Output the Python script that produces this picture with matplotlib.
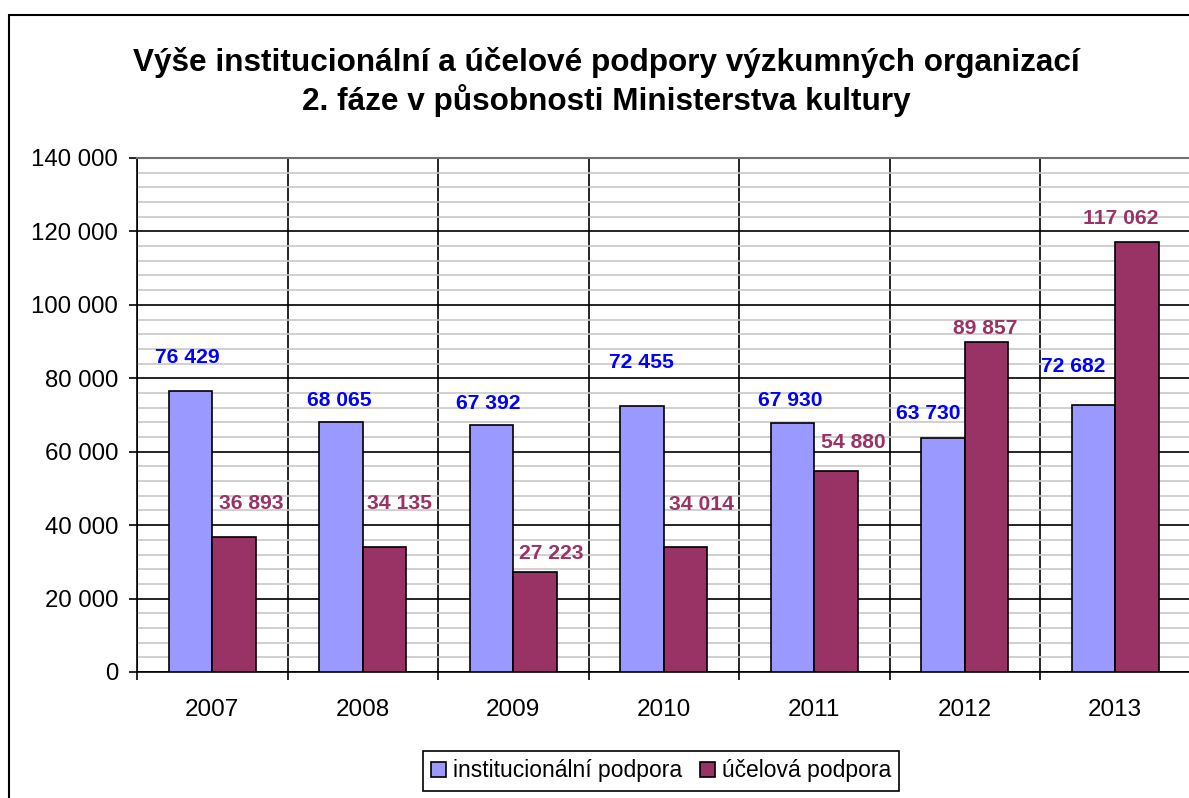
import matplotlib
matplotlib.use("Agg")
import matplotlib.pyplot as plt
from matplotlib.patches import Rectangle
from matplotlib.ticker import MultipleLocator, FuncFormatter
import numpy as np

years = ["2007", "2008", "2009", "2010", "2011", "2012", "2013"]
institucionalni = [76429, 68065, 67392, 72455, 67930, 63730, 72682]
ucelova = [36893, 34135, 27223, 34014, 54880, 89857, 117062]

# label offsets in pixels (manually placed in the original)
inst_dx = [-3, -2, -3, -1, -2, -15, -20]
inst_dy = [34, 22, 21, 43, 22, 25, 39]
ucel_dx = [17, 15, 16, 16, 17, -1, -16]
ucel_dy = [33, 43, 19, 43, 28, 14, 24]

BLUE = "#9999FF"
MAROON = "#993366"

plt.rcParams["font.family"] = ["Liberation Sans", "DejaVu Sans"]

fig = plt.figure(figsize=(11.89, 7.98), dpi=100)

# outer chart frame (partly cut off at right/bottom)
fig.patches.append(Rectangle((9 / 1189, -0.1), 2, 1.1 - 15 / 798,
                             transform=fig.transFigure, fill=False,
                             edgecolor="black", linewidth=1.5))

ax = fig.add_axes([137 / 1189, 126 / 798, 1053.5 / 1189, 514 / 798])

x = np.arange(len(years))
w = 0.288
b1 = ax.bar(x - w / 2, institucionalni, w, color=BLUE, edgecolor="black",
            linewidth=1.2, label="institucionální podpora", zorder=3)
b2 = ax.bar(x + w / 2, ucelova, w, color=MAROON, edgecolor="black",
            linewidth=1.2, label="účelová podpora", zorder=3)

for i in range(len(years)):
    ax.annotate(f"{institucionalni[i]:,}".replace(",", " "),
                (x[i] - w / 2, institucionalni[i]),
                xytext=(inst_dx[i], inst_dy[i]), textcoords="offset pixels",
                ha="center", va="center", color="#0000FF",
                fontsize=15.2, fontweight="bold", zorder=4)
    ax.annotate(f"{ucelova[i]:,}".replace(",", " "),
                (x[i] + w / 2, ucelova[i]),
                xytext=(ucel_dx[i], ucel_dy[i]), textcoords="offset pixels",
                ha="center", va="center", color=MAROON,
                fontsize=15.2, fontweight="bold", zorder=4)

ax.set_xlim(-0.5, len(years) - 0.5)
ax.set_ylim(0, 140000)

ax.yaxis.set_major_locator(MultipleLocator(20000))
ax.yaxis.set_minor_locator(MultipleLocator(4000))
ax.yaxis.set_major_formatter(FuncFormatter(lambda v, p: f"{int(v):,}".replace(",", " ")))
ax.grid(axis="y", which="major", color="black", linewidth=1.2, zorder=1)
ax.grid(axis="y", which="minor", color="#C8C8C8", linewidth=1.2, zorder=0)

ax.set_xticks(x)
ax.set_xticklabels(years)
ax.set_xticks(np.arange(-0.5, len(years) + 0.5), minor=True)
ax.grid(axis="x", which="minor", color="black", linewidth=1.2, zorder=1)

ax.tick_params(axis="x", which="major", length=0, pad=19.5, labelsize=17.5)
ax.tick_params(axis="x", which="minor", length=6, width=1.2, direction="out")
ax.tick_params(axis="y", which="major", length=6, width=1.2, direction="out",
               pad=7.5, labelsize=17.3)
ax.tick_params(axis="y", which="minor", length=0)

for s in ["left", "bottom"]:
    ax.spines[s].set_color("black")
    ax.spines[s].set_linewidth(1.2)
ax.spines["top"].set_color("#707070")
ax.spines["top"].set_linewidth(1.5)
ax.spines["right"].set_visible(False)

fig.text(606 / 1189, 1 - 82 / 798,
         "Výše institucionální a účelové podpory výzkumných organizací\n"
         "2. fáze v působnosti Ministerstva kultury",
         ha="center", va="center", fontsize=22.7, fontweight="bold",
         linespacing=1.2)

leg = fig.legend(handles=[b1, b2], loc="center",
                 bbox_to_anchor=(661 / 1189, 1 - 771 / 798), ncol=2,
                 fontsize=16.5, frameon=True, fancybox=False,
                 edgecolor="black", framealpha=1, handlelength=0.65,
                 handleheight=0.65, handletextpad=0.3, columnspacing=0.8,
                 borderpad=0.35, borderaxespad=0)
leg.get_frame().set_linewidth(1.2)

fig.savefig("out.png", dpi=100)
